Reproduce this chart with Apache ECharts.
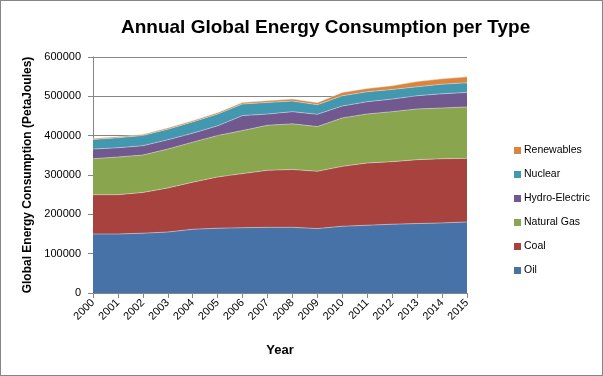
<!DOCTYPE html>
<html>
<head>
<meta charset="utf-8">
<script src="https://cdn.jsdelivr.net/npm/echarts@6/dist/echarts.min.js"></script>
<style>
	html, body { margin: 0; padding: 0; background: #fff; }
	#chart { width: 603px; height: 376px; box-sizing: border-box; border: 1px solid #868686; }
</style>
</head>
<body>
<div id="chart"></div>
<script>
	// 年份
	const years = ["2000", "2001", "2002", "2003", "2004", "2005", "2006", "2007",
		"2008", "2009", "2010", "2011", "2012", "2013", "2014", "2015"];
	// 各能源消费量 (PetaJoules)
	const oil = [150000, 150000, 152000, 155000, 162000, 164700, 166000, 167000,
		167000, 163800, 169700, 172300, 174800, 176500, 178200, 180700];
	const coal = [100000, 100000, 103600, 112000, 119700, 130300, 137500, 145000,
		147000, 145700, 152400, 158200, 159100, 162500, 163300, 161600];
	const naturalGas = [91500, 95700, 95100, 99000, 101800, 105500, 109500, 114500,
		116000, 113700, 123000, 124700, 127200, 128800, 128900, 130700];
	const hydro = [24500, 23600, 23700, 23500, 22800, 24500, 38000, 28500,
		31000, 31100, 30300, 31100, 31900, 33700, 36100, 36900];
	const nuclear = [24300, 25300, 26100, 26900, 28700, 30000, 29500, 29600,
		27000, 24500, 26100, 25300, 24500, 22700, 24500, 24400];
	const renewables = [2200, 2400, 2600, 2900, 3200, 3500, 3800, 4300,
		5000, 5000, 8400, 8400, 9300, 13500, 13500, 15200];

	const names = ["Oil", "Coal", "Natural Gas", "Hydro-Electric", "Nuclear", "Renewables"];
	const values = [oil, coal, naturalGas, hydro, nuclear, renewables];
	const colorArr = ["#4672A8", "#A8423F", "#89A54E", "#71588F", "#4198AF", "#DB843D"];
	const font = "'Liberation Sans', Arial, sans-serif";

	let myChart = echarts.init(document.getElementById("chart"));
	let option = {
		animation: false,
		textStyle: { fontFamily: font },
		title: {
			text: "Annual Global Energy Consumption per Type",
			left: 115,
			top: 12,
			textStyle: { fontSize: 19, fontWeight: "bold", color: "#000", fontFamily: font }
		},
		legend: {
			data: names.slice().reverse(),
			orient: "vertical",
			left: 508,
			top: 139,
			itemGap: 13,
			itemWidth: 7,
			itemHeight: 7,
			icon: "rect",
			textStyle: { fontSize: 10.5, color: "#000", padding: [0, 0, 0, -2] }
		},
		grid: { left: 92, right: 135, top: 56, bottom: 82 },
		xAxis: {
			type: "category",
			data: years,
			boundaryGap: false,
			name: "Year",
			nameLocation: "middle",
			nameGap: 51,
			nameTextStyle: { fontSize: 13, fontWeight: "bold", color: "#000" },
			axisLine: { lineStyle: { color: "#868686" } },
			axisTick: { show: true, length: 5, lineStyle: { color: "#868686" } },
			axisLabel: { color: "#000", fontSize: 11, rotate: 45, interval: 0, margin: 8 },
			splitLine: { show: false }
		},
		yAxis: {
			type: "value",
			min: 0,
			max: 600000,
			interval: 100000,
			name: "Global Energy Consumption (PetaJoules)",
			nameLocation: "middle",
			nameGap: 53,
			nameTextStyle: { fontSize: 12, fontWeight: "bold", color: "#000" },
			axisLine: { show: true, lineStyle: { color: "#868686" } },
			axisTick: { show: true, length: 5, lineStyle: { color: "#868686" } },
			axisLabel: { color: "#000", fontSize: 11, margin: 12, formatter: (v) => String(v) },
			splitLine: { lineStyle: { color: "#868686" } }
		},
		series: names.map((n, i) => ({
			name: n,
			type: "line",
			stack: "total",
			data: values[i],
			showSymbol: false,
			symbol: "none",
			itemStyle: { color: colorArr[i] },
			lineStyle: { width: 0.8, color: "rgba(230,230,230,0.6)" },
			areaStyle: { color: colorArr[i], opacity: 1 }
		}))
	};
	myChart.setOption(option);
</script>
</body>
</html>
